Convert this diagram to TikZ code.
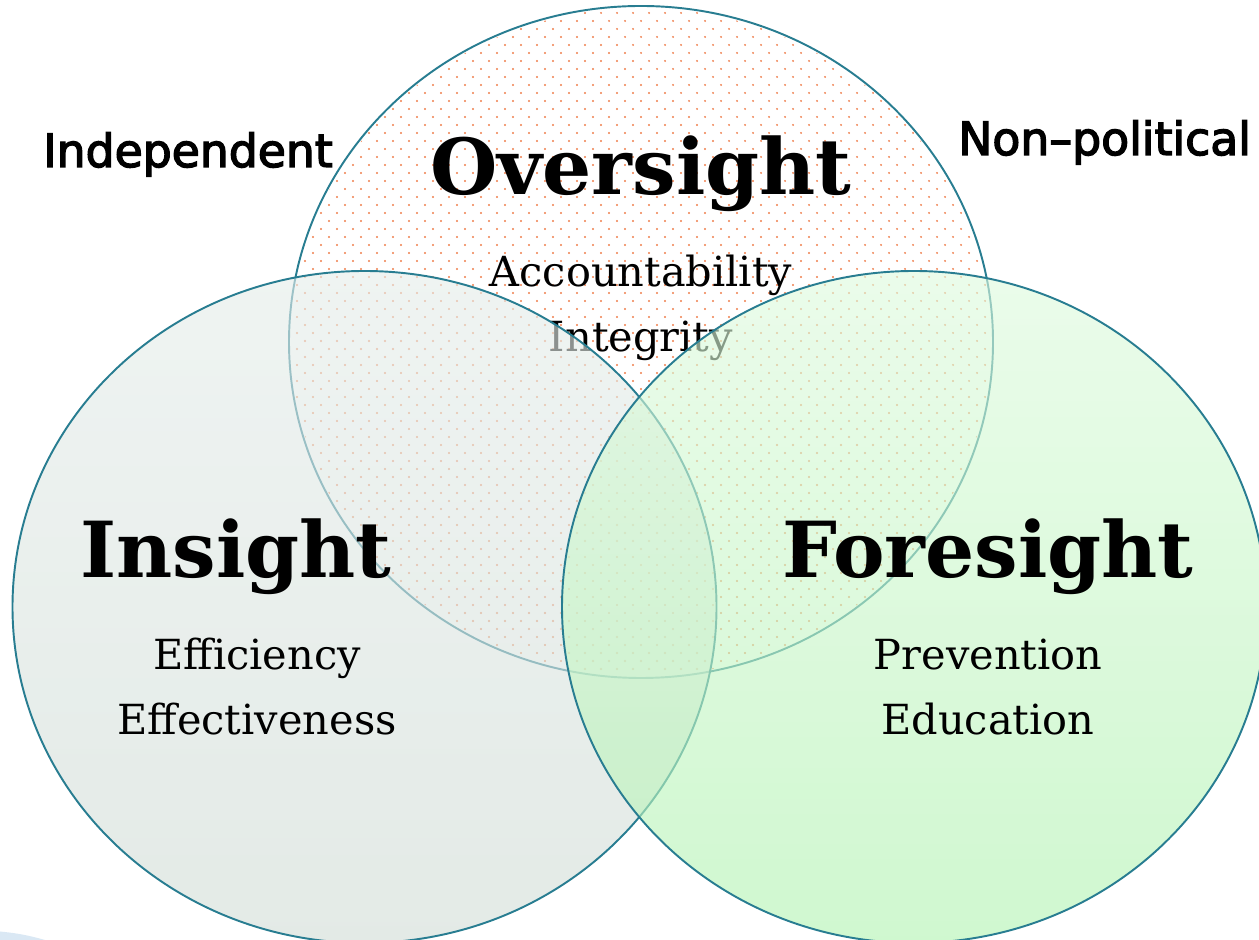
\documentclass[tikz,border=0pt]{standalone}
\usepackage{fontspec}
\setmainfont{DejaVu Serif}
\newfontfamily\tagfont[FakeBold=3]{DejaVu Sans}
\usetikzlibrary{positioning,shapes.geometric}
\definecolor{ringline}{RGB}{40,125,145}
\definecolor{dotcol}{RGB}{238,125,75}
\definecolor{insTop}{RGB}{229,237,234}
\definecolor{insBot}{RGB}{210,221,215}
\definecolor{foreTop}{RGB}{222,250,222}
\definecolor{foreBot}{RGB}{178,243,178}
\definecolor{swoosh}{RGB}{218,232,244}

\begin{document}
\begin{tikzpicture}[
            ring/.style={ellipse,draw=ringline,line width=1.1pt,minimum width=14.08cm,minimum height=13.44cm,inner sep=0},
            see/.style={ring,fill opacity=.62},
            title/.style={font=\fontsize{44}{50}\selectfont\bfseries,text height=1.2cm,text depth=.4cm},
            sub/.style={font=\fontsize{23.6}{28}\selectfont,text height=.6cm,text depth=.2cm,node distance=1.3cm},
            first/.style={sub,node distance=2.04cm},
            tag/.style={font=\tagfont\fontsize{26}{30}\selectfont,anchor=base west}
          ]
          \useasboundingbox (0,0) rectangle (25.18,18.8);
          \clip (0,0) rectangle (25.18,18.8);
          \fill[swoosh] (0,.17) to[bend left=5] (.9,0) -- (0,0) -- cycle;

          %oversight
          \node[ring] (overC) at (12.82,11.96) {};
          \begin{scope}
            \clip (12.82,11.96) ellipse [x radius=7.0cm,y radius=6.68cm];
            \foreach \r in {0,...,84}{
              \pgfmathsetmacro\sx{mod(\r,2)*.16}
              \foreach \c in {0,...,44}
                \fill[dotcol] (5.78+\sx+\c*.32,5.26+\r*.16) circle (.021);
            }
          \end{scope}
          \node[title] (over) at (12.82,15.3) {Oversight};
          \node[below of = over,first] (acc) {Accountability};
          \node[below of = acc,sub] (integ) {Integrity};

          %insight and foresight
          \node[see,top color=insTop,bottom color=insBot] (insC) at (7.29,6.66) {};
          \node[see,top color=foreTop,bottom color=foreBot] (foreC) at (18.28,6.66) {};
          \node[title] (ins) at (4.72,7.64) {Insight};
          \node[below of = ins,first,xshift=.42cm] (effic) {Efficiency};
          \node[below of = effic,sub] (effect) {Effectiveness};
          \node[title] (fore) at (19.76,7.64) {Foresight};
          \node[below of = fore,first] (prev) {Prevention};
          \node[below of = prev,sub] (edu) {Education};

          %labels
          \node[tag] (indep) at (.74,15.46) {Independent};
          \node[tag] (nonpol) at (19.04,15.7) {Non–political};
      \end{tikzpicture}
\end{document}
